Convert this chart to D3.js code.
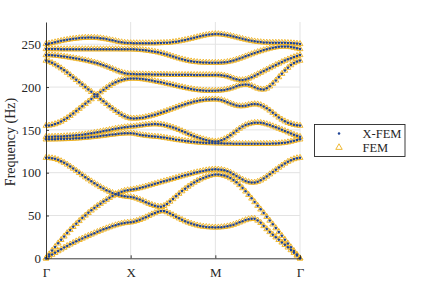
<!DOCTYPE html>
<html>
<head>
<meta charset="utf-8">
<script src="https://cdn.jsdelivr.net/npm/d3@7"></script>
<style>
  body { margin: 0; background: #fff; }
  text { font-family: "Liberation Serif", "Times New Roman", serif; }
</style>
</head>
<body>
<script>
const w = 436
const h = 291

// path labels along the irreducible zone, and frequency ticks
const kLabels = ["Γ", "X", "M", "Γ"]
const yTicks = [0, 50, 100, 150, 200, 250]
const samplesPerSegment = 28

// band frequencies (Hz) at each k-point, Γ-X | X-M | M-Γ
const band1 = [
  0,2.2,4.3,6.4,8.5,10.5,12.5,14.5,16.3,18.1,19.9,21.6,23.2,24.8,26.4,27.9,29.4,30.9,32.4,33.8,35.1,36.4,37.6,38.7,39.7,40.6,41.3,41.8,42.1,
  42.8,43.8,45.0,46.4,48.0,49.7,51.4,53.0,54.4,55.3,55.2,54.0,52.3,50.5,48.6,46.8,45.0,43.3,41.9,40.6,39.5,38.5,37.7,37.1,36.7,36.4,36.2,36.1,
  36.2,36.4,36.8,37.4,38.2,39.3,40.6,42.0,43.4,44.7,45.7,46.3,46.2,44.2,41.5,37.8,34.2,30.8,27.6,24.6,21.6,18.6,15.7,12.8,9.7,6.5,3.3,0]
const band2 = [
  0,4.5,9.0,13.3,17.5,21.6,25.6,29.5,33.2,36.8,40.3,43.7,47.0,50.1,53.1,56.0,58.7,61.3,63.8,66.2,68.5,70.7,72.8,74.7,76.4,77.8,78.9,79.6,80.0,
  80.6,81.3,82.1,83.0,84.0,85.0,86.0,87.0,88.0,89.0,90.0,91.0,92.0,93.0,94.0,95.0,96.0,97.0,98.0,98.9,99.8,100.6,101.4,102.1,102.8,103.3,103.7,103.9,
  103.8,103.4,102.7,101.6,100.1,98.2,96.1,94.0,92.0,90.3,89.1,88.5,88.6,89.5,91.1,93.2,95.6,98.2,100.8,103.4,106.0,108.5,110.8,112.9,114.6,116.0,117.0,117.5]
const band3 = [
  117.5,117.3,116.9,116.2,115.0,113.5,111.7,109.6,107.3,104.9,102.4,99.8,97.3,94.8,92.4,90.0,87.7,85.5,83.4,81.4,79.6,77.9,76.4,75.1,74.0,73.1,72.4,71.9,71.6,
  70.9,69.9,68.6,67.1,65.5,63.9,62.5,61.3,60.5,60.3,61.3,63.5,66.3,69.3,72.4,75.5,78.5,81.3,83.9,86.3,88.5,90.5,92.3,93.9,95.3,96.5,97.4,98.0,
  97.9,97.4,96.6,95.4,93.7,91.5,88.8,85.7,82.1,78.2,74.2,70.0,65.8,61.5,57.2,52.9,48.5,44.1,39.7,35.3,30.8,26.3,21.8,17.3,12.9,8.6,4.3,0]
const band4 = [
  139.0,139.0,139.1,139.1,139.2,139.3,139.4,139.5,139.7,139.9,140.1,140.3,140.6,140.9,141.2,141.6,142.0,142.4,142.8,143.3,143.7,144.2,144.6,145.0,145.4,145.7,146.0,146.1,146.2,
  145.8,145.1,144.4,143.8,143.3,142.9,142.5,142.2,141.9,141.5,141.0,140.4,139.8,139.2,138.6,138.1,137.6,137.1,136.6,136.2,135.8,135.5,135.2,135.0,134.8,134.7,134.6,134.5,
  134.4,134.3,134.2,134.1,134.0,133.9,133.8,133.8,133.7,133.7,133.7,133.7,133.7,133.7,133.7,133.8,133.8,133.9,134.0,134.1,134.3,134.6,135.0,135.6,136.4,137.3,138.2,139.0]
const band5 = [
  142.0,142.0,142.1,142.2,142.3,142.4,142.6,142.8,143.0,143.3,143.6,144.0,144.4,144.9,145.4,146.0,146.6,147.2,147.9,148.6,149.3,150.0,150.7,151.4,152.0,152.6,153.1,153.5,153.8,
  154.1,154.5,155.0,155.5,156.0,156.4,156.7,156.8,156.7,156.3,155.7,154.9,153.9,152.8,151.5,150.1,148.6,147.1,145.6,144.1,142.7,141.4,140.2,139.1,138.2,137.4,136.8,136.4,
  136.8,137.8,139.3,141.3,143.7,146.3,149.0,151.6,153.8,155.6,156.9,157.8,158.3,158.4,158.2,157.6,156.7,155.6,154.3,153.0,151.6,150.2,148.8,147.3,145.8,144.4,143.1,142.0]
const band6 = [
  155.0,155.2,155.8,156.8,158.1,159.8,161.8,164.0,166.5,169.2,172.0,174.8,177.6,180.4,183.2,186.0,188.7,191.4,194.1,196.7,199.2,201.6,203.8,205.6,207.1,208.3,209.2,209.8,210.1,
  210.1,210.0,209.7,209.3,208.8,208.2,207.6,206.9,206.2,205.5,204.8,204.0,203.2,202.4,201.6,200.8,200.0,199.2,198.5,197.8,197.2,196.7,196.3,196.0,195.8,195.7,195.7,195.8,
  195.9,196.2,196.7,197.4,198.4,199.6,200.9,202.0,202.8,203.1,202.7,201.5,199.9,198.4,197.4,197.3,198.5,200.9,204.1,207.8,211.7,215.6,219.3,222.7,225.7,228.2,230.0,231.0]
const band7 = [
  231.0,229.8,228.3,226.5,224.4,222.1,219.6,216.9,214.1,211.3,208.5,205.7,202.9,200.1,197.3,194.5,191.7,188.9,186.1,183.3,180.5,177.7,175.0,172.4,170.0,167.8,165.9,164.4,163.5,
  163.4,163.5,163.8,164.3,165.0,165.8,166.7,167.7,168.8,169.9,171.1,172.4,173.7,175.0,176.3,177.6,178.8,180.0,181.1,182.1,183.0,183.8,184.5,185.0,185.4,185.6,185.7,185.7,
  185.5,184.9,183.8,182.4,180.9,179.5,178.4,177.8,177.8,178.3,179.1,179.8,180.1,179.9,179.0,177.4,175.3,172.8,170.1,167.3,164.6,162.2,160.1,158.4,157.1,156.1,155.4,155.0]
const band8 = [
  237.5,237.4,237.2,236.9,236.5,236.1,235.6,235.1,234.5,233.9,233.3,232.7,232.0,231.3,230.5,229.7,228.8,227.8,226.7,225.5,224.2,222.8,221.3,219.8,218.4,217.2,216.2,215.6,215.3,
  215.2,215.1,215.0,215.0,214.9,214.9,214.8,214.8,214.7,214.7,214.6,214.6,214.5,214.5,214.4,214.4,214.4,214.3,214.3,214.3,214.2,214.2,214.2,214.2,214.2,214.2,214.2,214.2,
  214.1,213.8,213.3,212.5,211.4,210.1,209.0,208.3,208.2,208.8,210.0,211.6,213.3,215.1,216.9,218.7,220.5,222.3,224.1,225.9,227.6,229.3,230.9,232.4,233.8,235.1,236.4,237.5]
const band9 = [
  244.5,244.5,244.4,244.4,244.4,244.3,244.3,244.3,244.3,244.3,244.3,244.3,244.3,244.3,244.3,244.3,244.3,244.3,244.3,244.3,244.3,244.3,244.3,244.3,244.3,244.2,244.2,244.2,244.2,
  244.1,243.9,243.6,243.3,242.9,242.4,241.9,241.3,240.6,239.8,238.9,237.9,236.8,235.7,234.6,233.5,232.5,231.6,230.8,230.1,229.6,229.2,228.9,228.7,228.6,228.5,228.5,228.5,
  228.5,228.6,228.9,229.4,230.1,231.0,232.1,233.3,234.6,235.9,237.2,238.5,239.8,241.0,242.1,243.2,244.2,245.1,245.9,246.6,247.1,247.4,247.5,247.3,246.8,246.1,245.3,244.5]
const band10 = [
  250.4,250.9,251.6,252.4,253.2,254.0,254.7,255.3,255.9,256.4,256.8,257.2,257.5,257.7,257.8,257.8,257.7,257.5,257.1,256.6,256.0,255.3,254.6,253.8,253.0,252.4,251.9,251.6,251.4,
  251.3,251.3,251.3,251.3,251.3,251.3,251.3,251.3,251.4,251.5,251.7,251.8,252.1,252.5,253.0,253.6,254.3,255.0,255.8,256.6,257.5,258.4,259.3,260.1,260.8,261.4,261.8,262.0,
  261.9,261.6,261.1,260.5,259.8,259.0,258.1,257.2,256.3,255.5,254.7,254.0,253.4,252.9,252.5,252.2,252.0,251.9,251.9,251.9,251.9,251.9,251.8,251.6,251.4,251.1,250.8,250.4]

const bands = [band1, band2, band3, band4, band5, band6, band7, band8, band9, band10]
const seriesNames = ["X-FEM", "FEM"]

const blue = "#1f4496"
const orange = "#EDB120"
const axisCol = "#262626"

const x = d3.scaleLinear().domain([0, 3]).range([46, 300])
const y = d3.scaleLinear().domain([0, 276]).range([258.3, 22])

const pts = []
bands.forEach(b => b.forEach((f, i) => pts.push({ k: i / samplesPerSegment, f: f })))

const svg = d3.select("body").append("svg")
  .attr("width", w).attr("height", h)

// grid
svg.append("g").selectAll("line")
  .data(yTicks.slice(1))
  .join("line")
  .attr("x1", x(0)).attr("x2", x(3))
  .attr("y1", d => y(d)).attr("y2", d => y(d))
  .attr("stroke", "#e3e3e3").attr("stroke-width", 1)
svg.append("g").selectAll("line")
  .data([1, 2, 3])
  .join("line")
  .attr("x1", d => x(d)).attr("x2", d => x(d))
  .attr("y1", y(0)).attr("y2", y(276))
  .attr("stroke", "#e3e3e3").attr("stroke-width", 1)

// FEM triangles under, X-FEM dots on top
const tri = d3.symbol().type(d3.symbolTriangle).size(15)
svg.append("g").selectAll("path")
  .data(pts)
  .join("path")
  .attr("d", tri)
  .attr("transform", d => `translate(${x(d.k)},${y(d.f)})`)
  .attr("fill", "none")
  .attr("stroke", orange)
  .attr("stroke-width", 0.9)

svg.append("g").selectAll("circle")
  .data(pts)
  .join("circle")
  .attr("cx", d => x(d.k))
  .attr("cy", d => y(d.f))
  .attr("r", 1.25)
  .attr("fill", blue)

// axes
const xAxis = d3.axisBottom(x)
  .tickValues([0, 1, 2, 3])
  .tickFormat((d, i) => kLabels[i])
  .tickSizeInner(-3).tickSizeOuter(0).tickPadding(9)
const yAxis = d3.axisLeft(y)
  .tickValues(yTicks)
  .tickSizeInner(-3).tickSizeOuter(0).tickPadding(5)

const gx = svg.append("g").attr("transform", `translate(0,${y(0)})`).call(xAxis)
const gy = svg.append("g").attr("transform", `translate(${x(0)},0)`).call(yAxis)
for (const g of [gx, gy]) {
  g.select(".domain").attr("stroke", axisCol).attr("stroke-width", 0.9)
  g.selectAll(".tick line").attr("stroke", axisCol).attr("stroke-width", 0.9)
  g.selectAll(".tick text")
    .attr("fill", axisCol)
    .attr("font-family", "Liberation Serif")
    .attr("font-size", 13)
}

svg.append("text")
  .attr("transform", "rotate(-90)")
  .attr("x", -142).attr("y", 15)
  .attr("text-anchor", "middle")
  .attr("font-size", 14)
  .attr("fill", axisCol)
  .text("Frequency (Hz)")

// legend
const lg = svg.append("g").attr("transform", "translate(314.5,124.5)")
lg.append("rect")
  .attr("width", 90.5).attr("height", 32)
  .attr("fill", "#fff")
  .attr("stroke", axisCol).attr("stroke-width", 0.9)
lg.append("circle").attr("cx", 24.5).attr("cy", 9).attr("r", 1.25).attr("fill", blue)
lg.append("path")
  .attr("d", d3.symbol().type(d3.symbolTriangle).size(18)())
  .attr("transform", "translate(24.5,23)")
  .attr("fill", "none").attr("stroke", orange).attr("stroke-width", 0.9)
lg.selectAll("text")
  .data(seriesNames)
  .join("text")
  .attr("x", 48).attr("y", (d, i) => 9 + i * 14)
  .attr("dy", "0.35em")
  .attr("font-size", 12.5)
  .attr("fill", axisCol)
  .text(d => d)
</script>
</body>
</html>
